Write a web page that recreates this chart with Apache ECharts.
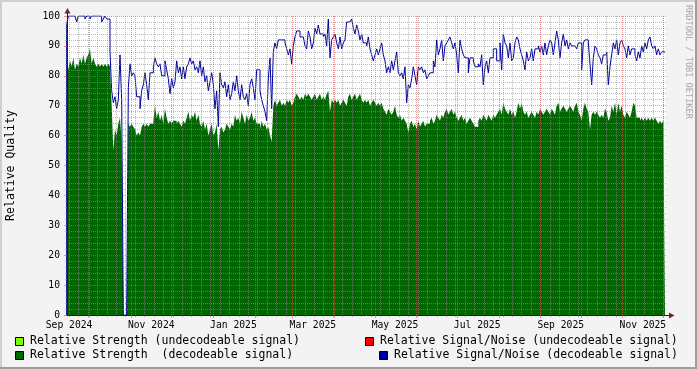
<!DOCTYPE html>
<html><head><meta charset="utf-8">
<script src="https://cdn.jsdelivr.net/npm/echarts@6/dist/echarts.min.js"></script>
<style>html,body{margin:0;padding:0;background:#f3f3f3;}#c{width:697px;height:369px;}</style>
</head><body><div id="c"></div>
<script>
// ---- time range ----
const DATA_START = Date.UTC(2024, 8, 14, 5);
const DATA_END = Date.UTC(2025, 11, 2, 10);
const AXIS_MIN = Date.UTC(2024, 8, 14, 11);
const AXIS_MAX = Date.UTC(2025, 11, 3, 4);

// ---- tick / label definitions ----
const monthTicks = ['2024-10-01','2024-11-01','2024-12-01','2025-01-01','2025-02-01','2025-03-01','2025-04-01',
  '2025-05-01','2025-06-01','2025-07-01','2025-08-01','2025-09-01','2025-10-01','2025-11-01','2025-12-01'];
const labelDates = ['2024-09-16','2024-11-16','2025-01-16','2025-03-16','2025-05-16','2025-07-16','2025-09-16','2025-11-16'];
const labelTexts = ['Sep 2024','Nov 2024','Jan 2025','Mar 2025','May 2025','Jul 2025','Sep 2025','Nov 2025'];
const firstWeekTick = '2024-09-16';

// ---- series values ----
const snrDecodeable = [
0,97,100,100,100,100,100,98,100,100,
100,100,99,100,100,99,100,100,100,100,
100,100,98,99,100,99,99,88,75,71,
73,69,72,87,72,0,0,0,76,84,
80,81,80,73,73,69,75,77,81,77,
72,81,81,83,86,84,83,84,80,80,
85,82,79,74,79,76,78,85,81,83,
79,83,79,83,84,86,84,85,82,83,
81,85,80,83,78,80,75,78,81,77,
69,75,63,81,77,76,78,73,77,72,
74,78,75,80,75,72,77,73,72,74,
70,77,79,76,72,82,
82,75,72,70,68,65,79,86,69,88,
91,89,92,92,92,92,91,89,87,89,
84,90,93,95,95,93,93,93,90,89,
95,93,89,91,96,94,97,94,94,93,
94,90,99,86,92,93,94,91,89,93,
89,91,92,98,98,98,99,96,94,97,
95,92,94,91,91,90,93,89,87,85,
87,89,87,89,91,87,85,81,83,81,
85,82,85,88,81,80,81,79,83,71,
77,76,79,83,80,77,83,82,83,81,
82,79,
80,81,81,85,83,92,87,89,92,85,
90,91,92,93,91,89,91,87,81,92,
89,87,86,86,81,86,86,85,83,83,
84,83,87,77,83,85,81,86,86,89,
89,85,85,91,82,94,91,90,86,91,
85,86,91,93,92,89,87,85,82,88,
85,86,89,85,89,89,90,88,90,87,
91,87,90,92,91,87,91,95,92,86,
91,94,90,92,89,91,90,90,90,89,
91,91,82,91,92,92,91,84,77,86,
90,89,
87,86,84,87,87,88,77,83,87,91,
89,92,87,91,92,90,89,86,90,87,
89,89,87,85,88,86,90,88,91,89,
92,93,90,89,90,87,89,87,88,88
];
const strengthDecodeable = [
82,86,82,85,83,86,82,84,83,86,
84,87,84,86,87,89,84,86,84,83,
84,83,84,83,84,83,84,83,70,55,
62,60,64,66,58,0,0,0,64,63,
64,63,62,60,61,60,63,64,63,64,
63,64,64,65,70,66,68,65,67,64,
69,66,64,65,64,65,65,64,65,64,
63,65,64,66,68,65,67,66,68,65,
67,64,63,65,62,64,60,62,64,60,
61,64,55,62,63,61,62,64,63,62,
64,63,67,65,66,64,68,66,64,67,
65,66,68,65,66,64,
64,62,65,63,64,62,63,60,58,70,
72,70,71,72,70,71,70,72,71,72,
70,71,73,74,73,72,73,72,74,73,
74,73,72,73,74,72,73,74,72,73,
72,74,75,68,72,71,72,71,72,70,
71,72,71,70,73,74,72,73,74,72,
73,74,72,71,72,71,72,70,71,72,
71,70,71,70,71,69,68,67,69,68,
67,68,70,67,66,67,65,66,65,64,
61,64,65,63,64,62,65,63,64,65,
63,64,
64,65,66,64,65,67,66,65,67,66,
68,69,67,68,69,67,68,66,65,66,
67,65,66,64,65,66,65,64,63,63,
65,66,65,67,66,65,67,66,65,67,
66,67,68,69,67,71,69,68,67,69,
67,68,66,68,71,69,71,68,67,68,
66,67,68,67,66,68,67,69,68,67,
68,69,68,67,69,68,67,70,71,68,
69,70,69,68,69,70,69,68,70,71,
68,67,65,69,71,69,68,62,67,68,
67,68,
67,66,67,66,69,68,65,66,70,68,
71,67,71,68,70,67,66,68,67,66,
68,71,70,66,66,65,66,65,66,65,
66,65,66,65,66,65,64,65,64,65
];
const strengthUndecodeable = [];
const snrUndecodeable = [];

// ---- names / colours ----
const NAME_SU = 'Relative Strength (undecodeable signal)';
const NAME_SD = 'Relative Strength  (decodeable signal)';
const NAME_NU = 'Relative Signal/Noise (undecodeable signal)';
const NAME_ND = 'Relative Signal/Noise (decodeable signal)';
const C_SU = '#80ff00', C_SD = '#006600', C_NU = '#ff0000', C_ND = '#000099';
const GRID_MINOR = 'rgba(143,143,143,0.6)';
const GRID_MAJOR = 'rgba(222,79,79,0.6)';
const FONT = 'DejaVu Sans Mono';

function toTime(s){ const p=s.split('-').map(Number); return Date.UTC(p[0],p[1]-1,p[2]); }
function pairs(vals){
  const n = vals.length;
  if (n < 2) return [];
  const step = (DATA_END - DATA_START)/(n-1);
  return vals.map((v,i)=>[DATA_START + i*step, v]);
}
const monthTickTimes = monthTicks.map(toTime);
const labelTimes = labelDates.map(toTime);
const weekTimes = [];
for (let t = toTime(firstWeekTick); t < AXIS_MAX; t += 7*86400000) weekTimes.push(t);

function fmtLabel(v){
  let best=0;
  for(let i=1;i<labelTimes.length;i++){ if(Math.abs(labelTimes[i]-v)<Math.abs(labelTimes[best]-v)) best=i; }
  return labelTexts[best];
}

const chart = echarts.init(document.getElementById('c'), null, {renderer:'canvas'});
const option = {
  animation:false,
  backgroundColor:'#f3f3f3',
  grid:{left:67,right:31,top:16,bottom:54,show:true,backgroundColor:'#ffffff',borderWidth:0,
        containLabel:false,outerBoundsMode:'none'},
  xAxis:[{
    type:'value', min:AXIS_MIN, max:AXIS_MAX, position:'bottom', z:5, scale:true,
    axisLine:{show:true,onZero:false,lineStyle:{color:'#1f1f1f',width:1}},
    axisTick:{show:true,customValues:monthTickTimes,length:3,lineStyle:{color:GRID_MAJOR}},
    axisLabel:{show:true,customValues:labelTimes,margin:5,fontFamily:FONT,fontSize:9.7,color:'#000',formatter:fmtLabel},
    splitLine:{show:true,lineStyle:{color:GRID_MAJOR,type:[1,1],width:1}}
  },{
    type:'value', min:AXIS_MIN, max:AXIS_MAX, position:'bottom', z:4, scale:true,
    axisLine:{show:false,onZero:false},
    axisTick:{show:true,customValues:weekTimes,length:2,lineStyle:{color:GRID_MINOR}},
    axisLabel:{show:false},
    splitLine:{show:true,lineStyle:{color:GRID_MINOR,type:[1,1],width:1}}
  }],
  yAxis:{
    type:'value', min:0, max:100, interval:10, z:5,
    name:'Relative Quality', nameLocation:'middle', nameGap:50,
    nameTextStyle:{fontFamily:FONT,fontSize:11.5,color:'#000'},
    axisLine:{show:true,lineStyle:{color:'#1f1f1f',width:1}},
    axisTick:{show:true,length:3,lineStyle:{color:GRID_MAJOR}},
    minorTick:{show:true,splitNumber:5,length:2,lineStyle:{color:GRID_MINOR}},
    axisLabel:{margin:7,fontFamily:FONT,fontSize:9.7,color:'#000'},
    splitLine:{show:true,lineStyle:{color:GRID_MAJOR,type:[1,1],width:1}},
    minorSplitLine:{show:true,lineStyle:{color:GRID_MINOR,type:[1,1],width:1}}
  },
  series:[
    {name:NAME_SU,type:'line',step:'start',symbol:'none',data:pairs(strengthUndecodeable),
     lineStyle:{width:0},areaStyle:{color:C_SU,opacity:1},z:2},
    {name:NAME_SD,type:'line',step:'start',symbol:'none',data:pairs(strengthDecodeable),
     lineStyle:{width:0,color:C_SD},areaStyle:{color:C_SD,opacity:1},z:2},
    {name:NAME_NU,type:'line',step:'start',symbol:'none',data:pairs(snrUndecodeable),
     lineStyle:{width:1,color:C_NU},z:3},
    {name:NAME_ND,type:'line',step:'start',symbol:'none',data:pairs(snrDecodeable),
     lineStyle:{width:1,color:C_ND},z:3}
  ],
  graphic:[
    {type:'line',shape:{x1:0,y1:1,x2:697,y2:1},style:{stroke:'#cfcfcf',lineWidth:2},silent:true},
    {type:'line',shape:{x1:1,y1:0,x2:1,y2:369},style:{stroke:'#cfcfcf',lineWidth:2},silent:true},
    {type:'line',shape:{x1:0,y1:368,x2:697,y2:368},style:{stroke:'#9e9e9e',lineWidth:2},silent:true},
    {type:'line',shape:{x1:696,y1:0,x2:696,y2:369},style:{stroke:'#9e9e9e',lineWidth:2},silent:true},
    {type:'line',shape:{x1:67.5,y1:16,x2:67.5,y2:12},style:{stroke:'#1f1f1f',lineWidth:1},z:10},
    {type:'polygon',shape:{points:[[64.5,13.5],[70.5,13.5],[67.5,8]]},style:{fill:'#801f1f'},z:10},
    {type:'line',shape:{x1:666,y1:315.5,x2:670,y2:315.5},style:{stroke:'#1f1f1f',lineWidth:1},z:10},
    {type:'polygon',shape:{points:[[669,312.5],[669,318.5],[674.5,315.5]]},style:{fill:'#801f1f'},z:10},
    {type:'text',x:688,y:5,rotation:-Math.PI/2,style:{text:'RRDTOOL / TOBI OETIKER',fill:'#a8a8a8',font:'8.6px "DejaVu Sans Mono"',textAlign:'left',textVerticalAlign:'middle'},z:10},
    {type:'rect',shape:{x:15.5,y:337.5,width:8,height:8},style:{fill:C_SU,stroke:'#000',lineWidth:1},z:10},
    {type:'text',x:30,y:341.5,style:{text:NAME_SU,fill:'#000',font:'11.5px "DejaVu Sans Mono"',textVerticalAlign:'middle'},z:10},
    {type:'rect',shape:{x:15.5,y:351.5,width:8,height:8},style:{fill:C_SD,stroke:'#000',lineWidth:1},z:10},
    {type:'text',x:30,y:355.5,style:{text:NAME_SD,fill:'#000',font:'11.5px "DejaVu Sans Mono"',textVerticalAlign:'middle'},z:10},
    {type:'rect',shape:{x:365.5,y:337.5,width:8,height:8},style:{fill:C_NU,stroke:'#000',lineWidth:1},z:10},
    {type:'text',x:380,y:341.5,style:{text:NAME_NU,fill:'#000',font:'11.5px "DejaVu Sans Mono"',textVerticalAlign:'middle'},z:10},
    {type:'rect',shape:{x:379.5,y:351.5,width:8,height:8},style:{fill:C_ND,stroke:'#000',lineWidth:1},z:10},
    {type:'text',x:394,y:355.5,style:{text:NAME_ND,fill:'#000',font:'11.5px "DejaVu Sans Mono"',textVerticalAlign:'middle'},z:10}
  ]
};
chart.setOption(option);
</script>
</body></html>
